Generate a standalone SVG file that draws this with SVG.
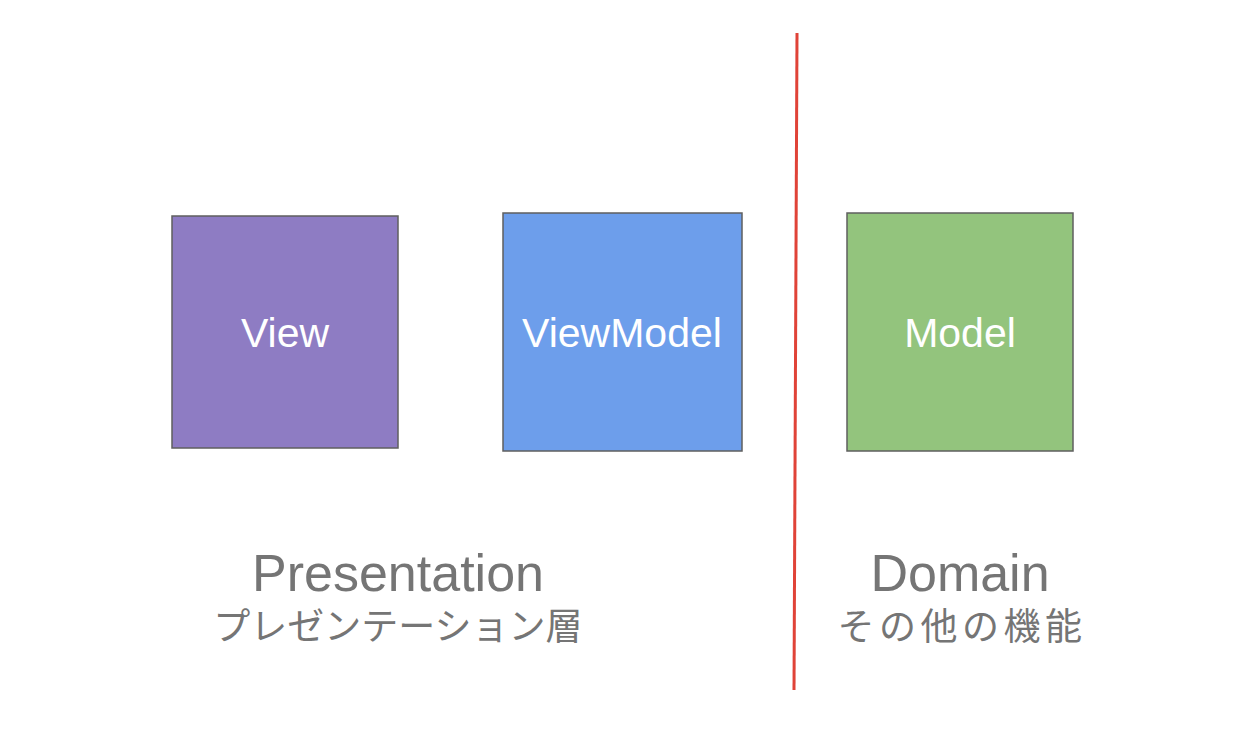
<svg xmlns="http://www.w3.org/2000/svg" width="1243" height="748" viewBox="0 0 1243 748">
<style>
.box{stroke:#5f5f5f;stroke-width:1.5}
.lbl{font-family:"Liberation Sans",Arial,sans-serif;font-size:41px;fill:#ffffff;text-anchor:middle}
.title{font-family:"Liberation Sans",Arial,sans-serif;font-size:52px;fill:#757575;text-anchor:middle}
.sub{font-family:"Liberation Sans","Noto Sans CJK JP",sans-serif;font-size:37px;fill:#757575;text-anchor:middle}
</style>
<rect width="1243" height="748" fill="#ffffff"/>
<g id="connectors">
<line x1="797" y1="33" x2="794" y2="690" stroke="#e04338" stroke-width="3"/>
</g>
<g id="view">
<rect class="box" x="172" y="216" width="226" height="232" fill="#8e7cc3"/>
<text class="lbl" x="285" y="347">View</text>
</g>
<g id="viewmodel">
<rect class="box" x="503" y="213" width="239" height="238" fill="#6d9eeb"/>
<text class="lbl" x="622" y="347">ViewModel</text>
</g>
<g id="model">
<rect class="box" x="847" y="213" width="226" height="238" fill="#93c47d"/>
<text class="lbl" x="960" y="347">Model</text>
</g>
<g id="presentation">
<text class="title" x="398" y="591">Presentation</text>
<text class="sub" x="398" y="640">プレゼンテーション層</text>
</g>
<g id="domain">
<text class="title" x="960" y="591">Domain</text>
<text class="sub" x="962" y="640" letter-spacing="4.5">その他の機能</text>
</g>
</svg>
